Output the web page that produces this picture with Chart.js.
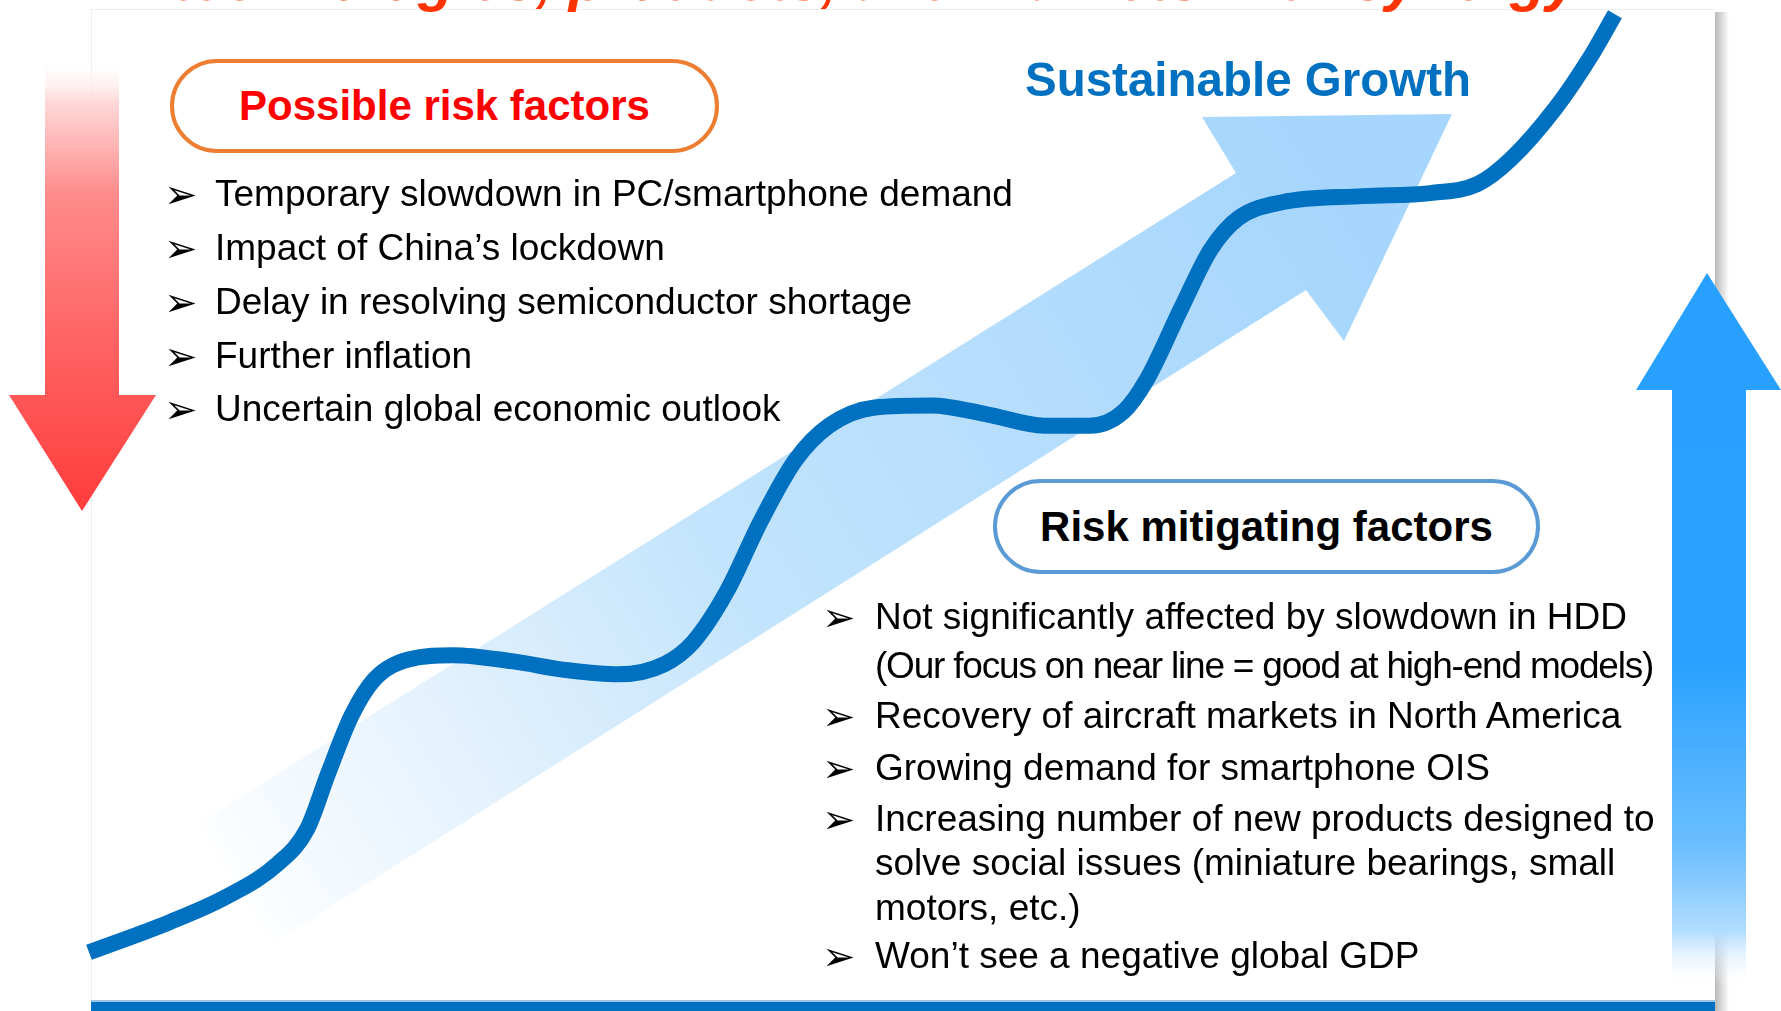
<!DOCTYPE html>
<html lang="en">
<head>
<meta charset="utf-8">
<title>Sustainable Growth</title>
<script src="https://cdn.jsdelivr.net/npm/chart.js@4/dist/chart.umd.min.js"></script>
<style>
  html, body { margin: 0; padding: 0; background: #fff; }
  #slide { position: relative; width: 1781px; height: 1011px; overflow: hidden; font-family: "Liberation Sans", Arial, sans-serif; }
  #growthChart { position: absolute; left: 0; top: 0; }
  .txt { position: absolute; white-space: nowrap; color: #000; }
  .pill { position: absolute; box-sizing: border-box; background: #fff; border-radius: 48px; display: flex; align-items: center; justify-content: center; font-weight: bold; font-size: 42px; }
  .bullet { position: absolute; font-family: "DejaVu Sans", sans-serif; font-size: 40px; line-height: 46px; color: #000; }
</style>
</head>
<body>
<div id="slide">
  <canvas id="growthChart" width="1781" height="1011"></canvas>
  <div class="txt" id="title">technologies, products, and markets with synergy</div>
  <div class="pill" id="riskBox">Possible risk factors</div>
  <div class="txt" id="growthLabel">Sustainable Growth</div>
  <div class="pill" id="mitigBox">Risk mitigating factors</div>
</div>
<script>
// Growth curve (period 0-100, growth index 0-100)
const periods = [0, 5.3, 9.0, 12.4, 14.3, 15.7, 17.2, 18.7, 21.0, 23.9, 27.7, 31.4, 34.7, 37.7, 39.6,
    41.8, 44.0, 46.3, 48.5, 51.5, 55.2, 58.9, 62.6, 65.6, 67.8, 69.3, 71.6, 73.5, 75.3, 78.2,
    83.5, 87.9, 91.0, 93.2, 96.1, 98.4, 100];
const growthIndex = [5.8, 8.8, 11.3, 14.6, 18.0, 23.6, 29.2, 32.8, 34.8, 35.2, 34.6, 33.7, 33.3, 34.3, 36.5,
    41.5, 48.4, 54.5, 57.9, 59.7, 59.9, 59.0, 57.9, 57.9, 59.3, 62.4, 69.6, 75.3, 78.4, 80.0,
    80.6, 80.9, 81.8, 84.3, 89.3, 94.4, 98.6];

const riskFactors = [
    "Temporary slowdown in PC/smartphone demand",
    "Impact of China’s lockdown",
    "Delay in resolving semiconductor shortage",
    "Further inflation",
    "Uncertain global economic outlook"
];

const mitigatingFactors = [
    ["Not significantly affected by slowdown in HDD", "(Our focus on near line = good at high-end models)"],
    ["Recovery of aircraft markets in North America"],
    ["Growing demand for smartphone OIS"],
    ["Increasing number of new products designed to", "solve social issues (miniature bearings, small", "motors, etc.)"],
    ["Won’t see a negative global GDP"]
];

// Layout of the text blocks
const riskRowsY = [194, 248, 302, 356, 409];
const mitigRowsY = [617, 666, 716, 768, 819, 863, 908, 956];

const slide = document.getElementById('slide');

function addLine(text, left, cy, size, style) {
    const el = document.createElement('div');
    el.className = 'txt';
    el.textContent = text;
    const lh = Math.round(size * 1.2);
    el.style.left = left + 'px';
    el.style.top = (cy - lh / 2) + 'px';
    el.style.fontSize = size + 'px';
    el.style.lineHeight = lh + 'px';
    if (style) Object.assign(el.style, style);
    slide.appendChild(el);
}

function addBullet(left, cy) {
    const el = document.createElement('div');
    el.className = 'bullet';
    el.textContent = '➢';
    el.style.left = left + 'px';
    el.style.top = (cy - 23) + 'px';
    slide.appendChild(el);
}

// Title (cut off at the top of the slide) and boxes
const title = document.getElementById('title');
Object.assign(title.style, { left: '172px', top: '-49px', fontSize: '59px', lineHeight: '59px', fontWeight: 'bold', fontStyle: 'italic', color: '#FF3300' });

const riskBox = document.getElementById('riskBox');
Object.assign(riskBox.style, { left: '170px', top: '59px', width: '549px', height: '94px', border: '4px solid #ED7D31', color: '#FF0000' });

const mitigBox = document.getElementById('mitigBox');
Object.assign(mitigBox.style, { left: '993px', top: '479px', width: '547px', height: '95px', border: '4px solid #5B9BD5', color: '#000' });

const growthLabel = document.getElementById('growthLabel');
Object.assign(growthLabel.style, { left: '1025px', top: '52px', fontSize: '47.5px', lineHeight: '56px', fontWeight: 'bold', color: '#0070C0' });

riskFactors.forEach((t, i) => {
    addBullet(164, riskRowsY[i]);
    addLine(t, 215, riskRowsY[i], 37);
});

let row = 0;
mitigatingFactors.forEach(item => {
    item.forEach((t, j) => {
        if (j === 0) addBullet(822, mitigRowsY[row]);
        const condensed = t.charAt(0) === '(' ? { letterSpacing: '-1.2px' } : null;
        addLine(t, 875, mitigRowsY[row], 37, condensed);
        row++;
    });
});

// Background shapes: slide panel, red/blue arrows, light trend arrow
function drawPanel(c) {
    const sh = c.createLinearGradient(1715, 0, 1729, 0);
    sh.addColorStop(0, 'rgba(0,0,0,0.28)');
    sh.addColorStop(1, 'rgba(0,0,0,0)');
    c.fillStyle = sh;
    c.fillRect(1715, 12, 14, 999);
    c.strokeStyle = '#EEEEEE';
    c.lineWidth = 1;
    c.beginPath();
    c.moveTo(91, 9.5); c.lineTo(1715, 9.5);
    c.moveTo(91.5, 9); c.lineTo(91.5, 1002);
    c.stroke();
    c.fillStyle = '#9DC3E6';
    c.fillRect(91, 1000, 1624, 2);
    c.fillStyle = '#0070C0';
    c.fillRect(91, 1002, 1624, 9);
}

function drawDownArrow(c) {
    const g = c.createLinearGradient(0, 57, 0, 511);
    g.addColorStop(0, 'rgba(255,255,255,0)');
    g.addColorStop(0.1, '#FFD8D8');
    g.addColorStop(0.3, '#FF8C8C');
    g.addColorStop(0.6, '#FF6666');
    g.addColorStop(1, '#FF3C3C');
    c.fillStyle = g;
    c.beginPath();
    c.moveTo(45, 57); c.lineTo(119, 57); c.lineTo(119, 395); c.lineTo(156, 395);
    c.lineTo(82, 511); c.lineTo(9, 395); c.lineTo(45, 395);
    c.closePath();
    c.fill();
}

function drawUpArrow(c) {
    const g = c.createLinearGradient(0, 273, 0, 988);
    g.addColorStop(0, '#28A0FF');
    g.addColorStop(0.55, '#2BA2FF');
    g.addColorStop(0.8, '#6BBEFF');
    g.addColorStop(0.92, '#B0DCFF');
    g.addColorStop(1, 'rgba(255,255,255,0)');
    c.fillStyle = g;
    c.beginPath();
    c.moveTo(1672, 988); c.lineTo(1672, 390); c.lineTo(1636, 390); c.lineTo(1707, 273);
    c.lineTo(1781, 390); c.lineTo(1746, 390); c.lineTo(1746, 988);
    c.closePath();
    c.fill();
}

function drawTrendArrow(c) {
    const g = c.createLinearGradient(236, 883, 1330, 200);
    g.addColorStop(0, 'rgba(200,228,252,0.05)');
    g.addColorStop(0.45, '#C3E4FC');
    g.addColorStop(1, '#A6D6FD');
    c.fillStyle = g;
    c.beginPath();
    c.moveTo(199, 823); c.lineTo(1236, 173); c.lineTo(1202, 117); c.lineTo(1452, 114);
    c.lineTo(1344, 341); c.lineTo(1306, 290); c.lineTo(273, 943);
    c.closePath();
    c.fill();
}

const slidePlugin = {
    id: 'slideShapes',
    beforeDatasetsDraw(chart) {
        const c = chart.ctx;
        c.save();
        drawPanel(c);
        drawDownArrow(c);
        drawUpArrow(c);
        drawTrendArrow(c);
        c.restore();
    }
};

const ctx = document.getElementById('growthChart').getContext('2d');
new Chart(ctx, {
    type: 'scatter',
    data: {
        datasets: [{
            label: 'Sustainable Growth',
            data: periods.map((p, i) => ({ x: p, y: growthIndex[i] })),
            showLine: true,
            borderColor: '#0070C0',
            borderWidth: 16,
            pointRadius: 0,
            cubicInterpolationMode: 'monotone',
            borderCapStyle: 'butt',
            borderJoinStyle: 'round',
            fill: false
        }]
    },
    options: {
        responsive: false,
        animation: false,
        devicePixelRatio: 1,
        events: [],
        layout: { padding: 0 },
        scales: {
            x: { type: 'linear', min: -5.83, max: 110.88, display: false },
            y: { min: 0, max: 100, display: false }
        },
        plugins: {
            legend: { display: false },
            tooltip: { enabled: false }
        }
    },
    plugins: [slidePlugin]
});
</script>
</body>
</html>
